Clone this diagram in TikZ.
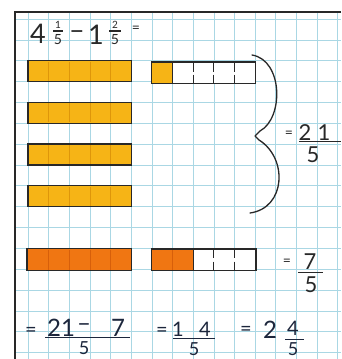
\documentclass[tikz,border=0pt]{standalone}
\usepackage{fontspec}
\setmainfont{Lato}
\definecolor{gridc}{RGB}{170,215,228}
\definecolor{barY}{RGB}{246,180,22}
\definecolor{barD}{RGB}{222,150,10}
\definecolor{barO}{RGB}{240,118,18}
\definecolor{barOD}{RGB}{215,95,10}
\definecolor{ink}{RGB}{40,40,40}
\definecolor{navy}{RGB}{28,38,60}
\begin{document}
\begin{tikzpicture}[x=1pt,y=-1pt,
  gridline/.style={draw=gridc,line width=0.7pt},
  ybar/.style={draw=ink,line width=1.3pt,fill=barY},
  obar/.style={draw=ink,line width=1.3pt,fill=barO},
  wbar/.style={draw=ink,line width=1.1pt,fill=white},
  ycell/.style={draw=barD,line width=0.6pt},
  ocell/.style={draw=barOD,line width=0.6pt},
  wdiv/.style={draw=ink,line width=1pt},
  fracline/.style={draw=ink,line width=1.2pt},
  nfracline/.style={draw=navy,line width=1.3pt},
  bigt/.style={font=\fontsize{27}{27}\selectfont,text=ink,inner sep=0pt},
  midt/.style={font=\fontsize{22}{22}\selectfont,text=ink,inner sep=0pt},
  smt/.style={font=\fontsize{14}{14}\selectfont,text=ink,inner sep=0pt},
  tinyt/.style={font=\fontsize{10}{10}\selectfont,text=ink,inner sep=0pt},
  nbig/.style={font=\fontsize{24}{24}\selectfont,text=navy,inner sep=0pt},
  nmid/.style={font=\fontsize{20}{20}\selectfont,text=navy,inner sep=0pt},
  nden/.style={font=\fontsize{18}{18}\selectfont,text=navy,inner sep=0pt},
]
\useasboundingbox (0,0) rectangle (341,359);
\fill[white] (0,0) rectangle (341,359);
% grid
\begin{scope}
\clip (15,12) rectangle (341,359);
\foreach \i in {0,...,15} \draw[gridline] ({28+20.65*\i},12) -- ({28+20.65*\i},359);
\foreach \j in {0,...,16} \draw[gridline] (15,{19+20.85*\j}) -- (341,{19+20.85*\j});
\end{scope}
\draw[line width=2pt,ink] (341,12) -- (15,12) -- (15,359);

% big yellow bars
\foreach \k in {2,4,6,8} {
  \draw[ybar] (28,{19+20.85*\k}) rectangle (131.25,{19+20.85*(\k+1)});
  \foreach \c in {1,...,4}
    \draw[ycell] ({28+20.65*\c},{19+20.85*\k+1}) -- ({28+20.65*\c},{19+20.85*(\k+1)-1});
}
% big orange bar
\draw[obar] (27,248.35) rectangle (131.25,270.5);
\foreach \c in {1,...,4}
  \draw[ocell] ({28+20.65*\c},249.5) -- ({28+20.65*\c},269.5);

% small bar top
\draw[wbar] (151.9,62) rectangle (255.25,83.5);
\draw[ybar,line width=1.1pt] (151.9,62) rectangle (172.55,83.5);
\foreach \c in {8,9,10} {
  \draw[wdiv] ({28+20.65*\c},62) -- ({28+20.65*\c},71.5);
  \draw[wdiv] ({28+20.65*\c},74.5) -- ({28+20.65*\c},83.5);
}
% small bar bottom
\draw[wbar] (151.9,249) rectangle (256,270.5);
\draw[obar,line width=1.1pt] (151.9,249) rectangle (193.2,270.5);
\draw[ocell] (172.55,250) -- (172.55,269.5);
\foreach \c in {9,10} {
  \draw[wdiv] ({28+20.65*\c},249) -- ({28+20.65*\c},258);
  \draw[wdiv] ({28+20.65*\c},261.5) -- ({28+20.65*\c},270.5);
}

% brace
\draw[ink,line width=1.3pt,line cap=round,line join=round]
  (252,55) .. controls (283,60) and (284,118) .. (260,131)
  -- (255,136) -- (259,140)
  .. controls (288,158) and (286,208) .. (250,213);

% top expression
\node[bigt] (t4) at (38,34) {4};
\node[tinyt] (t1n) at (58,25) {1};
\draw[fracline] (53,31) -- (63,31);
\node[smt] (t1d) at (58,39.5) {5};
\node[bigt] (tmin) at (77,35) {–};
\node[bigt] (t1) at (96,35) {1};
\node[tinyt] (t2n) at (115,25) {2};
\draw[fracline] (109,31) -- (121,31);
\node[smt] (t2d) at (115,39.5) {5};
\node[smt] (teq) at (136,29) {=};

% = 21/5
\node[smt] (r1eq) at (289,134) {=};
\node[midt] (r1n) at (305,133) {2};
\node[midt] (r1n2) at (324,133) {1};
\draw[fracline] (299,141.5) -- (341,141.5);
\node[midt] (r1d) at (313,155) {5};

% = 7/5
\node[smt] (r2eq) at (287,262) {=};
\node[midt] (r2n) at (310,262) {7};
\draw[fracline] (298,272.5) -- (323,272.5);
\node[midt] (r2d) at (311,285) {5};

% bottom row
\node[nmid] (b1eq) at (31,332) {=};
\node[nbig] (b1n) at (54,327.5) {2};
\node[nbig] (b1n2) at (68,327.5) {1};
\node[nbig] (b1m) at (84,327.5) {–};
\node[nbig] (b1n3) at (118,327.5) {7};
\draw[nfracline] (45,337.5) -- (130,337.5);
\node[nden] (b1d) at (84,348.5) {5};

\node[nmid] (b2eq) at (162,332) {=};
\node[nmid] (b2n) at (178,329) {1};
\node[nmid] (b2n2) at (205,329) {4};
\draw[nfracline] (173,338.5) -- (215,338.5);
\node[nden] (b2d) at (194,349) {5};

\node[nmid] (b3eq) at (246,331) {=};
\node[nbig] (b3w) at (270,330) {2};
\node[nmid] (b3n) at (293,328.5) {4};
\draw[nfracline] (285,339.5) -- (304,339.5);
\node[nden] (b3d) at (293,349.5) {5};
\end{tikzpicture}
\end{document}
